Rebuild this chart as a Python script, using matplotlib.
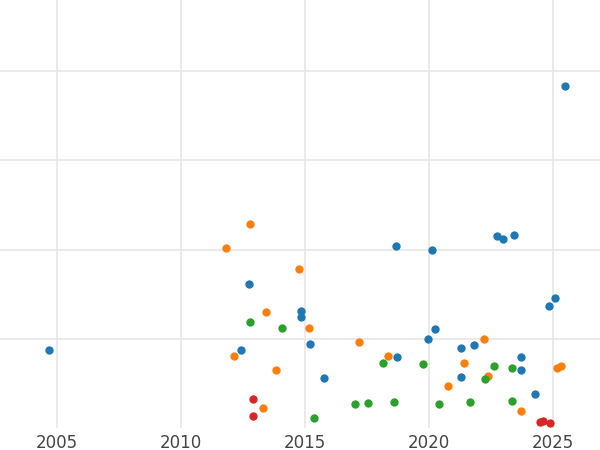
import matplotlib
matplotlib.use("Agg")
import matplotlib.pyplot as plt

blue_x = [2004.68, 2012.74, 2012.42, 2014.84, 2014.84, 2015.20, 2015.77, 2018.67, 2018.71,
          2019.96, 2020.12, 2020.24, 2021.29, 2021.29, 2021.81, 2022.74, 2022.98, 2023.43,
          2023.71, 2023.71, 2024.27, 2024.84, 2025.08, 2025.48]
blue_y = [0.87, 1.62, 0.87, 1.31, 1.25, 0.94, 0.56, 2.04, 0.80, 1.00, 2.00, 1.11, 0.90,
          0.57, 0.93, 2.15, 2.12, 2.16, 0.80, 0.65, 0.38, 1.37, 1.46, 3.84]
orange_x = [2011.81, 2012.78, 2012.14, 2013.43, 2013.83, 2014.76, 2015.16, 2013.31, 2017.18,
            2018.35, 2020.77, 2021.41, 2022.22, 2022.38, 2023.71, 2025.16, 2025.32]
orange_y = [2.02, 2.29, 0.81, 1.30, 0.65, 1.78, 1.12, 0.22, 0.96, 0.81, 0.47, 0.73, 1.00,
            0.58, 0.19, 0.67, 0.69]
green_x = [2012.78, 2014.07, 2015.36, 2017.02, 2017.54, 2018.15, 2018.59, 2019.76, 2020.40,
           2021.65, 2022.26, 2022.62, 2023.35, 2023.35]
green_y = [1.19, 1.12, 0.11, 0.27, 0.28, 0.73, 0.29, 0.72, 0.27, 0.29, 0.55, 0.69, 0.30, 0.67]
red_x = [2012.90, 2012.90, 2024.48, 2024.60, 2024.88]
red_y = [0.33, 0.13, 0.07, 0.08, 0.06]

fig = plt.figure(figsize=(6, 4.5), dpi=100)
ax = fig.add_axes([0, 0.049, 1, 0.951])
for xs, ys, c in [(blue_x, blue_y, "#1f77b4"), (orange_x, orange_y, "#ff7f0e"),
                  (green_x, green_y, "#2ca02c"), (red_x, red_y, "#d62728")]:
    ax.scatter(xs, ys, s=36, color=c, zorder=3, linewidths=0)

ax.set_xlim(2002.7, 2026.9)
ax.set_ylim(0, 4.8)
ax.set_xticks([2005, 2010, 2015, 2020, 2025])
ax.set_yticks([1, 2, 3, 4])
ax.tick_params(axis="y", labelleft=False, length=0)
ax.tick_params(axis="x", length=0, labelsize=12, colors="#444", pad=4)
ax.grid(color="#e6e6e6", lw=1.2)
for s in ax.spines.values():
    s.set_visible(False)
fig.savefig("out.png", dpi=100)
